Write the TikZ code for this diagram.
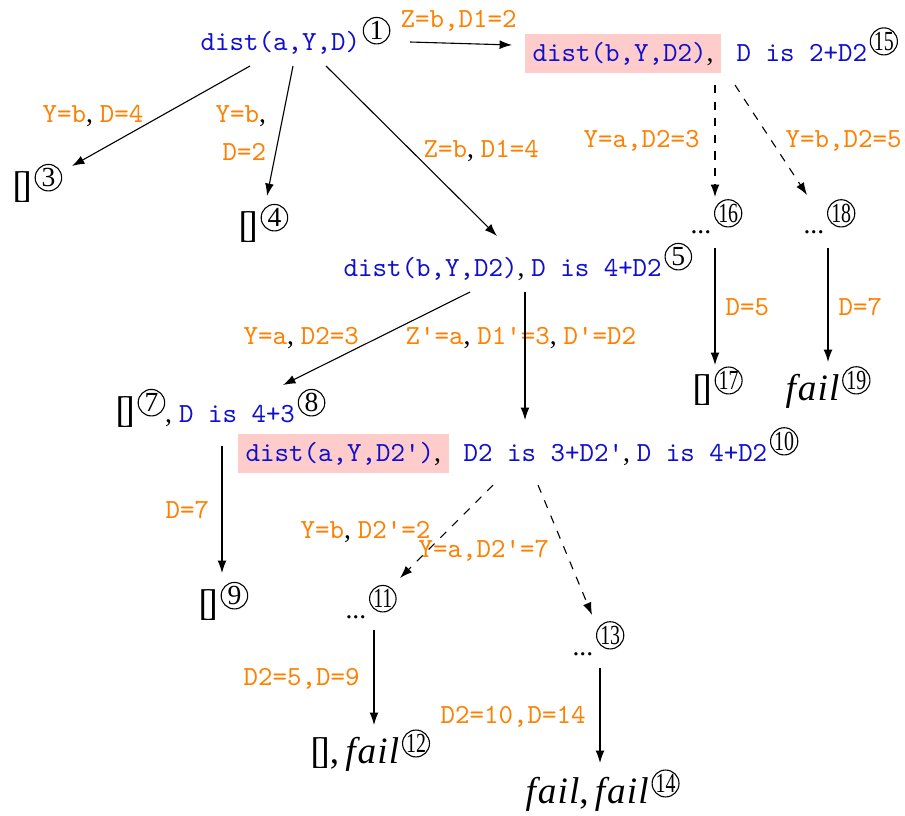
\documentclass[tikz,border=0pt]{standalone}
\usepackage{fontspec}
\setmainfont{Liberation Serif}
\usepackage{xcolor}
\usepackage{graphicx}
\usetikzlibrary{arrows.meta, positioning, calc}

\definecolor{goalblue}{RGB}{15,15,205}
\definecolor{bindorange}{RGB}{255,128,0}
\definecolor{hlpink}{RGB}{255,204,204}

\newcommand{\goal}[1]{\textcolor{goalblue}{\texttt{#1}}}
\newcommand{\bind}[1]{\textcolor{bindorange}{\texttt{#1}}}
\newcommand{\nofail}{\textit{f\kern0.7pt a\kern0.4pt i\kern0.4pt l}}
\newcommand{\emptyl}{[\kern-2pt]}
\newcommand{\cnum}[1]{\kern1pt\tikz[baseline=-2pt]\node[circ]{#1};}
\newcommand{\ccnum}[1]{\kern1pt\tikz[baseline=-2pt]\node[circ]{\scalebox{0.72}[1]{#1}};}

\begin{document}
\begin{tikzpicture}[
    x=0.3622pt, y=-0.3622pt,
    circ/.style={circle, draw=black, text=black, inner sep=0pt, minimum size=9.6pt, anchor=south, font=\fontsize{10}{10}\selectfont},
    goalnode/.style={anchor=base west, inner sep=0pt},
    hl/.style={anchor=base west, fill=hlpink, inner xsep=2.9pt, inner ysep=1.8pt, text height=8pt, text depth=2.5pt},
    term/.style={anchor=base west, inner sep=0pt, font=\fontsize{13.5}{16}\selectfont},
    lbl/.style={anchor=base west, inner sep=0pt},
    arrow/.style={-{Latex[length=4.5pt,width=3.2pt]}, draw=black},
    guess/.style={arrow, dashed}
]
\useasboundingbox (0,0) rectangle (905,815);

% Root goal
\node[goalnode] (n1) at (200,50) {\goal{dist(a,Y,D)}\cnum{1}};

% First level
\node[hl] (d15) at (524,61) {\goal{dist(b,Y,D2)},};
\node[goalnode] (r15) at (736,61) {\goal{D is 2+D2}\ccnum{15}};
\node[term] (n3) at (12,197) {\emptyl\cnum{3}};
\node[term] (n4) at (238,237) {\emptyl\cnum{4}};
\node[goalnode] (n5) at (343,276) {\goal{dist(b,Y,D2)}, \goal{D is 4+D2}\cnum{5}};

% Right subtree
\node[goalnode] (n16) at (690,233) {...\ccnum{16}};
\node[goalnode] (n18) at (803,233) {...\ccnum{18}};
\node[term] (n17) at (692,400) {\emptyl\ccnum{17}};
\node[term] (n19) at (785,400) {\nofail\ccnum{19}};

% Middle subtree
\node[term] (n7) at (115,422) {\emptyl\cnum{7}{\normalsize, \goal{D is 4+3}}\cnum{8}};
\node[hl] (d10) at (237,461) {\goal{dist(a,Y,D2')},};
\node[goalnode] (r10) at (463,461) {\goal{D2 is 3+D2'}, \goal{D is 4+D2}\ccnum{10}};
\node[term] (n9) at (198,615) {\emptyl\cnum{9}};
\node[goalnode] (n11) at (345,618) {...\ccnum{11}};
\node[goalnode] (n13) at (572,655) {...\ccnum{13}};
\node[term] (n12) at (310,763) {\emptyl,\,\nofail\ccnum{12}};
\node[term] (n14) at (525,803) {\nofail,\,\nofail\ccnum{14}};

% Bindings
\node[lbl] (l1) at (400,27) {\bind{Z=b,D1=2}};
\node[lbl] (l2) at (42,122) {\bind{Y=b}, \bind{D=4}};
\node[lbl] (l3a) at (215,122) {\bind{Y=b},};
\node[lbl] (l3b) at (222,160) {\bind{D=2}};
\node[lbl] (l4) at (423,157) {\bind{Z=b}, \bind{D1=4}};
\node[lbl] (l5) at (583,147) {\bind{Y=a,D2=3}};
\node[lbl] (l6) at (785,147) {\bind{Y=b,D2=5}};
\node[lbl] (l7) at (725,315) {\bind{D=5}};
\node[lbl] (l8) at (838,315) {\bind{D=7}};
\node[lbl] (l9) at (243,344) {\bind{Y=a}, \bind{D2=3}};
\node[lbl] (l10) at (405,344) {\bind{Z'=a}, \bind{D1'=3}, \bind{D'=D2}};
\node[lbl] (l11) at (165,518) {\bind{D=7}};
\node[lbl] (l12) at (300,538) {\bind{Y=b}, \bind{D2'=2}};
\node[lbl] (l13) at (418,557) {\bind{Y=a,D2'=7}};
\node[lbl] (l14) at (243,685) {\bind{D2=5,D=9}};
\node[lbl] (l15) at (440,723) {\bind{D2=10,D=14}};

% Connectors
\draw[arrow] ($(n1.base west)+(210,-8)$) -- ($(d15.base west)+(-12,-16)$);
\draw[arrow] ($(n1.base west)+(50,16)$) -- ($(n3.base west)+(60,-31)$);
\draw[arrow] ($(n1.base west)+(93,16)$) -- ($(n4.base west)+(29,-41)$);
\draw[arrow] ($(n1.base west)+(126,16)$) -- ($(n5.base west)+(154,-40)$);

\draw[guess] ($(d15.base west)+(191,24)$) -- ($(n16.base west)+(25,-36)$);
\draw[guess] ($(d15.base west)+(211,24)$) -- ($(n18.base west)+(4,-38)$);
\draw[arrow] ($(n16.base west)+(25,15)$) -- ($(n17.base west)+(23,-35)$);
\draw[arrow] ($(n18.base west)+(25,15)$) -- ($(n19.base west)+(43,-38)$);

\draw[arrow] ($(n5.base west)+(127,16)$) -- ($(n7.base west)+(168,-37)$);
\draw[arrow] ($(n5.base west)+(182,16)$) -- ($(r10.base west)+(62,-41)$);
\draw[arrow] ($(n7.base west)+(107,24)$) -- ($(n9.base west)+(24,-42)$);

\draw[guess] ($(r10.base west)+(30,24)$) -- ($(n11.base west)+(55,-40)$);
\draw[guess] ($(r10.base west)+(75,24)$) -- ($(n13.base west)+(20,-40)$);
\draw[arrow] ($(n11.base west)+(29,12)$) -- ($(n12.base west)+(64,-38)$);
\draw[arrow] ($(n13.base west)+(28,13)$) -- ($(n14.base west)+(75,-40)$);

\end{tikzpicture}
\end{document}
